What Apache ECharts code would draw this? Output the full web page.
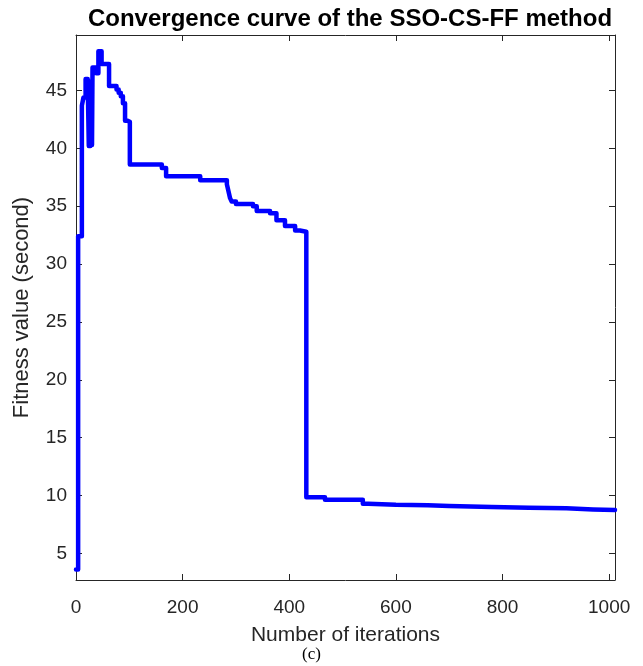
<!DOCTYPE html>
<html>
<head>
<meta charset="utf-8">
<script src="https://cdn.jsdelivr.net/npm/echarts@6/dist/echarts.min.js"></script>
<style>
html,body{margin:0;padding:0;background:#fff;}
#chart{width:643px;height:666px;}
</style>
</head>
<body>
<div id="chart"></div>
<script>
// iteration at which a new fitness value starts
const iterations = [0, 4, 11, 14, 18, 22, 24, 26, 27, 29, 30, 31, 38, 42, 48, 62, 76, 80, 84, 88, 92, 96, 101, 161, 169, 233, 283, 286, 289, 292, 300, 332, 339, 364, 376, 392, 411, 420, 432, 467, 538, 548, 600, 660, 700, 780, 850, 920, 970, 1011];
const fitness    = [3.6, 32.4, 43.7, 44.4, 46.0, 45.6, 40.2, 45.6, 40.2, 45.8, 40.3, 47.0, 46.5, 48.4, 47.3, 45.4, 45.1, 44.8, 44.5, 43.9, 42.4, 42.3, 38.6, 38.3, 37.6, 37.25, 36.9, 36.3, 35.7, 35.4, 35.2, 35.0, 34.6, 34.4, 33.8, 33.3, 32.9, 32.8, 9.85, 9.63, 9.3, 9.2, 9.15, 9.1, 9.0, 8.95, 8.9, 8.8, 8.75, 8.7];
const xTicks = [0, 200, 400, 600, 800, 1000];
const yTicks = [5, 10, 15, 20, 25, 30, 35, 40, 45];

const data = iterations.map((it, i) => [it, fitness[i]]);
const axisColor = '#262626';
const chart = echarts.init(document.getElementById('chart'));
const common = {
  axisLine: {show: true, onZero: false, lineStyle: {color: axisColor, width: 1}},
  splitLine: {show: false}
};
chart.setOption({
  animation: false,
  backgroundColor: '#fff',
  title: {
    text: 'Convergence curve of the SSO-CS-FF method',
    left: 345, top: 2, textAlign: 'center',
    textStyle: {fontFamily: 'Liberation Sans, Arial', fontWeight: 'bold', fontSize: 24, color: '#000'}
  },
  graphic: [{
    type: 'text', left: 302, top: 646,
    style: {text: '(c)', font: '17px "Liberation Serif", "Times New Roman", serif', fill: '#000'}
  }],
  grid: {left: 76, right: 28, top: 35, bottom: 86},
  xAxis: [
    Object.assign({}, common, {
      type: 'value', min: 0, max: 1011, interval: 200,
      name: 'Number of iterations', nameLocation: 'middle', nameGap: 45,
      nameTextStyle: {fontFamily: 'Liberation Sans, Arial', fontSize: 21, color: axisColor},
      axisTick: {show: true, inside: true, length: 6, lineStyle: {color: axisColor}, customValues: xTicks},
      axisLabel: {fontFamily: 'Liberation Sans, Arial', fontSize: 19, color: axisColor, margin: 18,
                  customValues: xTicks, formatter: v => String(v)}
    }),
    Object.assign({}, common, {
      type: 'value', min: 0, max: 1011, position: 'top',
      axisTick: {show: true, inside: true, length: 6, lineStyle: {color: axisColor}, customValues: xTicks},
      axisLabel: {show: false}
    })
  ],
  yAxis: [
    Object.assign({}, common, {
      type: 'value', min: 2.7, max: 49.8,
      name: 'Fitness value (second)', nameLocation: 'middle', nameGap: 43, nameRotate: 90,
      nameTextStyle: {fontFamily: 'Liberation Sans, Arial', fontSize: 22, color: axisColor},
      axisTick: {show: true, inside: true, length: 6, lineStyle: {color: axisColor}, customValues: yTicks},
      axisLabel: {fontFamily: 'Liberation Sans, Arial', fontSize: 19, color: axisColor, margin: 9,
                  customValues: yTicks, formatter: v => String(v)}
    }),
    Object.assign({}, common, {
      type: 'value', min: 2.7, max: 49.8, position: 'right',
      axisTick: {show: true, inside: true, length: 6, lineStyle: {color: axisColor}, customValues: yTicks},
      axisLabel: {show: false}
    })
  ],
  series: [{
    type: 'line', step: 'end', data: data, showSymbol: false, symbol: 'none',
    lineStyle: {color: '#0000ff', width: 4.5, cap: 'round', join: 'round'},
    clip: false
  }]
});
</script>
</body>
</html>
